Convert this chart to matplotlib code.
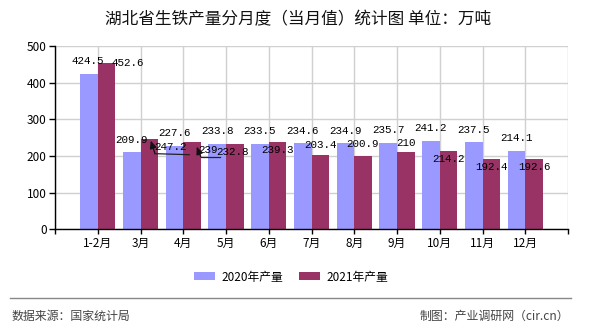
import matplotlib
matplotlib.use("Agg")
import matplotlib.pyplot as plt
from matplotlib.transforms import offset_copy
from matplotlib.patches import Patch
from matplotlib.lines import Line2D

plt.rcParams['font.family'] = ['Noto Sans CJK SC', 'DejaVu Sans']

# ---- data ----
categories = ['1-2月', '3月', '4月', '5月', '6月', '7月', '8月', '9月', '10月', '11月', '12月']
prod_2020 = [424.5, 209.9, 227.6, 233.8, 233.5, 234.6, 234.9, 235.7, 241.2, 237.5, 214.1]
prod_2021 = [452.6, 247.2, 239, 232.8, 239.3, 203.4, 200.9, 210, 214.2, 192.4, 192.6]
labels_2021 = ['452.6', '247.2', '239', '232.8', '239.3', '203.4', '200.9', '210', '214.2', '192.4', '192.6']
series_names = ['2020年产量', '2021年产量']
yticks = [0, 100, 200, 300, 400, 500]
title = '湖北省生铁产量分月度（当月值）统计图 单位：万吨'
source_text = '数据来源：国家统计局'
maker_text = '制图：产业调研网（cir.cn）'

# ---- style ----
c2020 = '#9999FF'
c2021 = '#993366'
bar_w = 0.41
# label offsets in pixels (dx, dy up)
off_2020 = [(-1, 12.5)] + [(0, 12.5)] * 10
off_2021 = [(21.5, 0), (21, -8), (16, -8), (-2, -8), (0, -8), (0, 10), (0, 12), (0, 9), (0, -8), (0, -8), (0, -8)]
# leader lines (index: (head offset, underline-left offset, underline-right offset))
leaders = {1: ((1.5, -2), (5.75, -15), (40, -16)),
           2: ((4.7, -5), (8.7, -15), (28, -15))}

W, H = 590, 330
fig = plt.figure(figsize=(W / 100, H / 100), dpi=100)
ax = fig.add_axes([55 / W, 1 - 229.3 / H, (568 - 55) / W, (229.3 - 46) / H])

x = list(range(1, len(categories) + 1))
x20 = [v - bar_w / 2 for v in x]
x21 = [v + bar_w / 2 for v in x]
ax.bar(x20, prod_2020, width=bar_w, color=c2020, zorder=2)
ax.bar(x21, prod_2021, width=bar_w, color=c2021, zorder=2)

ax.set_xlim(0, 12)
ax.set_ylim(0, 500)
ax.set_yticks(yticks)
ax.set_xticks(range(0, 13))
ax.set_xticklabels([''] + categories + [''])
ax.grid(True, color='#D0D0D0', linewidth=1, zorder=0)
ax.set_axisbelow(True)
for s in ['top', 'right']:
    ax.spines[s].set_visible(False)
for s in ['left', 'bottom']:
    ax.spines[s].set_color('black')
    ax.spines[s].set_linewidth(1)
ax.tick_params(axis='x', direction='out', length=3.5, width=1, pad=2, labelsize=8.5, colors='black')
ax.tick_params(axis='y', direction='out', length=4, width=1, pad=2, labelsize=8.5, colors='black')

vfont = dict(family=['Liberation Mono', 'DejaVu Sans Mono'], size=7.8, color='black')
for i, v in enumerate(prod_2020):
    dx, dy = off_2020[i]
    ax.annotate(f'{v}', xy=(x20[i], v), xytext=(dx, dy), textcoords='offset pixels',
                ha='center', va='center', zorder=5, **vfont)
for i, v in enumerate(prod_2021):
    dx, dy = off_2021[i]
    ax.annotate(labels_2021[i], xy=(x21[i], v), xytext=(dx, dy), textcoords='offset pixels',
                ha='center', va='center', zorder=5, **vfont)

for i, (head, left, right) in leaders.items():
    v = prod_2021[i]
    tl = offset_copy(ax.transData, fig=fig, x=left[0], y=left[1], units='dots')
    tr = offset_copy(ax.transData, fig=fig, x=right[0], y=right[1], units='dots')
    th = offset_copy(ax.transData, fig=fig, x=head[0], y=head[1], units='dots')
    pl = tl.transform((x21[i], v))
    pr = tr.transform((x21[i], v))
    ph = th.transform((x21[i], v))
    fig.add_artist(Line2D([pl[0] / W, pr[0] / W], [pl[1] / H, pr[1] / H], transform=fig.transFigure,
                          color='#222222', lw=0.9, zorder=6))
    ax.annotate('', xy=(ph[0], ph[1]), xycoords='figure pixels',
                xytext=(pl[0], pl[1]), textcoords='figure pixels',
                arrowprops=dict(arrowstyle='-|>,head_length=0.45,head_width=0.2', color='#111111',
                                lw=0.9, shrinkA=0, shrinkB=0), zorder=6)

fig.text(298 / W, 1 - 20 / H, title, ha='center', va='center', fontsize=12, color='#111111')

handles = [Patch(facecolor=c2020), Patch(facecolor=c2021)]
fig.legend(handles, series_names, loc='center', bbox_to_anchor=(291 / W, 1 - 277 / H), ncol=2,
           frameon=False, fontsize=8.5, handlelength=1.8, handleheight=0.68, handletextpad=0.5,
           columnspacing=1.35)

fig.add_artist(Line2D([10 / W, 571 / W], [1 - 298 / H, 1 - 298 / H], transform=fig.transFigure,
                      color='#888888', lw=1))
fig.text(12 / W, 1 - 316 / H, source_text, ha='left', va='center', fontsize=8.6, color='#444444')
fig.text(569 / W, 1 - 316 / H, maker_text, ha='right', va='center', fontsize=8.6, color='#444444')

fig.savefig('out.png', dpi=100)
